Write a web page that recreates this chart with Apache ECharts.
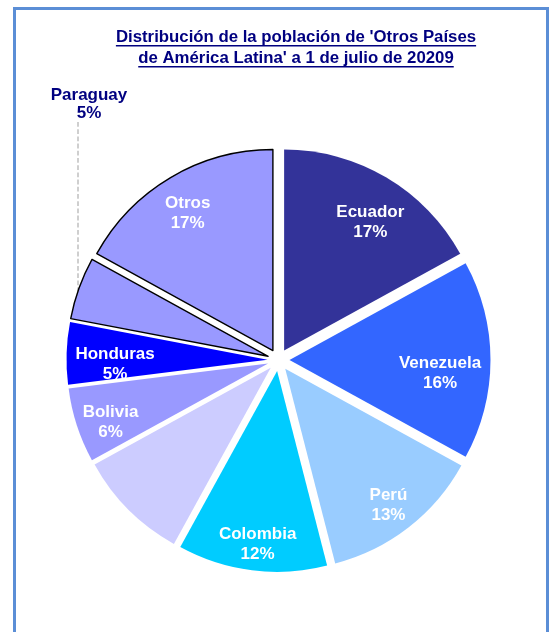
<!DOCTYPE html>
<html>
<head>
<meta charset="utf-8">
<script src="https://cdn.jsdelivr.net/npm/echarts@6/dist/echarts.min.js"></script>
<style>
  html, body { margin: 0; padding: 0; background: #fff; }
  #chart { width: 553px; height: 632px; }
</style>
</head>
<body>
<div id="chart"></div>
<script>
// datos (porcentaje de cada país)
const paises = ['Ecuador', 'Venezuela', 'Perú', 'Colombia', '', 'Bolivia', 'Honduras', 'Paraguay', 'Otros']
const valores = [17, 16, 13, 12, 9, 6, 5, 5, 17]
const colores = ['#333399', '#3366ff', '#99ccff', '#00ccff', '#ccccff', '#9999ff', '#0000ff', '#9999ff', '#9999ff']

const titulo = ["Distribución de la población de 'Otros Países", "de América Latina' a 1 de julio de 20209"]

const chart = echarts.init(document.getElementById('chart'))

const FONT = 'Liberation Sans'
const CX = 278.5, CY = 360, R = 201, OFF = 11
const TITLE_X = 296
const TITLE_SIZE = 16.8

// pequeños ajustes de las etiquetas (como las coloca Excel)
const ajuste = {
  'Ecuador': [3, 13], 'Venezuela': [-13, 13], 'Perú': [3, 7], 'Colombia': [1, 11],
  'Honduras': [11, 10], 'Bolivia': [-2, 8], 'Otros': [-2, 4]
}

// medir el ancho del título para subrayarlo
const ctx = document.createElement('canvas').getContext('2d')
ctx.font = 'bold ' + TITLE_SIZE + 'px "' + FONT + '"'
const underlines = titulo.map((t, i) => {
  const w = ctx.measureText(t).width
  return {
    type: 'rect',
    shape: { x: TITLE_X - w / 2, y: 45 + i * 21, width: w, height: 1.4 },
    style: { fill: '#000080' },
    silent: true
  }
})

const bordeNegro = ['Paraguay', 'Otros']

const dataMain = paises.map((p, i) => ({
  name: p,
  value: valores[i],
  selected: true,
  itemStyle: bordeNegro.includes(p)
    ? { color: colores[i], borderColor: '#000', borderWidth: 1.4 }
    : { color: colores[i], borderWidth: 0 }
}))

const dataLabels = paises.map((p, i) => {
  const item = { name: p, value: valores[i], selected: true }
  if (p === '') item.label = { show: false }
  if (p === 'Paraguay') {
    item.selected = false
    item.label = { position: 'outside', color: '#000080', overflow: 'none', lineHeight: 18 }
    item.labelLine = { show: true }
  }
  return item
})

// punto del arco de Paraguay (desplazado) bajo la etiqueta
function arcoParaguay(x) {
  const total = valores.reduce((a, b) => a + b, 0)
  const idx = paises.indexOf('Paraguay')
  let acc = 0
  for (let i = 0; i < idx; i++) acc += valores[i]
  const mid = (acc + valores[idx] / 2) / total * 2 * Math.PI
  const ox = CX + OFF * Math.sin(mid), oy = CY - OFF * Math.cos(mid)
  return oy - Math.sqrt(R * R - (x - ox) * (x - ox))
}

const option = {
  animation: false,
  title: {
    text: titulo.join('\n'),
    left: TITLE_X,
    top: 27,
    padding: 0,
    textAlign: 'center',
    textStyle: {
      fontFamily: FONT,
      fontSize: TITLE_SIZE,
      fontWeight: 'bold',
      color: '#000080',
      lineHeight: 21
    }
  },
  graphic: [
    {
      type: 'rect',
      shape: { x: 14.5, y: 8.5, width: 533, height: 700 },
      style: { fill: 'none', stroke: '#5b8ed6', lineWidth: 3 },
      silent: true
    }
  ].concat(underlines),
  series: [
    {
      type: 'pie',
      center: [CX, CY],
      radius: [0, R],
      startAngle: 90,
      selectedMode: 'multiple',
      selectedOffset: OFF,
      silent: true,
      label: { show: false },
      labelLine: { show: false },
      emphasis: { disabled: true },
      data: dataMain
    },
    {
      // serie transparente solo para colocar las etiquetas
      type: 'pie',
      center: [CX, CY],
      radius: [120, R],
      startAngle: 90,
      selectedMode: 'multiple',
      selectedOffset: OFF,
      silent: true,
      itemStyle: { color: 'rgba(0,0,0,0)' },
      emphasis: { disabled: true },
      label: {
        position: 'inside',
        formatter: '{b}\n{c}%',
        fontFamily: FONT,
        fontSize: 17,
        fontWeight: 'bold',
        color: '#fff',
        lineHeight: 20
      },
      labelLine: {
        show: false,
        lineStyle: { color: '#b0b0b0', type: 'dashed', width: 1.2 }
      },
      labelLayout: function (params) {
        const name = paises[params.dataIndex]
        if (name === 'Paraguay') {
          const lx = 78
          return {
            x: 89, y: 104, align: 'center', verticalAlign: 'middle',
            labelLinePoints: [[lx, 122], [lx, 122], [lx, arcoParaguay(lx)]]
          }
        }
        const d = ajuste[name] || [0, 8]
        return { dx: d[0], dy: d[1] }
      },
      data: dataLabels
    }
  ]
}

chart.setOption(option)
</script>
</body>
</html>
